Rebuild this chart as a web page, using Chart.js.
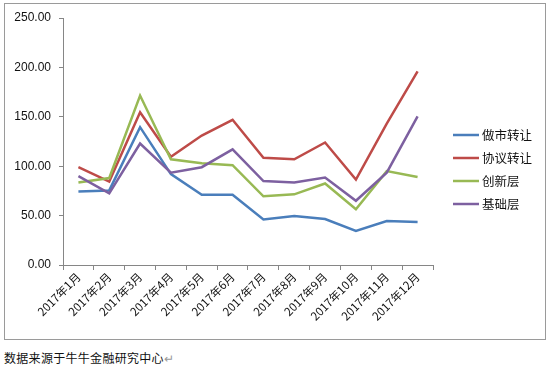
<!DOCTYPE html>
<html><head><meta charset="utf-8">
<script src="https://cdn.jsdelivr.net/npm/chart.js@4/dist/chart.umd.min.js"></script>
<style>
html,body{margin:0;padding:0;background:#fff;width:550px;height:368px;overflow:hidden;}
#box{position:absolute;left:4px;top:3px;width:540px;height:335px;border:1px solid #9a9a9a;}
#wrap{position:absolute;left:0;top:0;width:550px;height:345px;}
#cap{position:absolute;left:4px;top:349px;font:12px "Noto Sans CJK SC",sans-serif;color:#111;letter-spacing:0.3px;}
#cap span{color:#999;}
</style></head>
<body>
<div id="box"></div>
<div id="wrap"><canvas id="c"></canvas></div>
<div id="cap">数据来源于牛牛金融研究中心<span>↵</span></div>
<script>
const categories = ["2017年1月","2017年2月","2017年3月","2017年4月","2017年5月","2017年6月","2017年7月","2017年8月","2017年9月","2017年10月","2017年11月","2017年12月"];
const seriesNames = ["做市转让","协议转让","创新层","基础层"];
const marketMaking = [74.5, 75.5, 139.5, 92, 71, 71, 46, 49.5, 46.5, 34.5, 44.5, 43.5];
const agreement = [99, 84.5, 154.5, 109.5, 131, 147, 108.5, 107, 124, 86.5, 143, 196];
const innovation = [83.5, 88, 171.5, 107, 103, 101, 69.5, 71.5, 82.5, 56.5, 95, 89];
const basic = [90, 72.5, 123, 93.5, 99, 117, 85, 83.5, 88.5, 65, 93.5, 150.5];
const yTicks = [0, 50, 100, 150, 200, 250];
const colors = ["#4A7EBB","#BE4B48","#98B954","#7D60A0"];

const values = [marketMaking, agreement, innovation, basic];
const axisColor = "#868686";

const legendPlugin = {
  id: "sideLegend",
  afterDraw(chart) {
    const ctx = chart.ctx;
    ctx.save();
    chart.data.datasets.forEach((ds, i) => {
      const y = 135 + i * 23;
      ctx.strokeStyle = ds.borderColor;
      ctx.lineWidth = 2.5;
      ctx.beginPath();
      ctx.moveTo(453, y);
      ctx.lineTo(479, y);
      ctx.stroke();
      ctx.fillStyle = "#111";
      ctx.font = '12.5px "Noto Sans CJK SC", sans-serif';
      ctx.textBaseline = "middle";
      ctx.textAlign = "left";
      ctx.fillText(ds.label, 482, y);
    });
    ctx.restore();
  }
};

new Chart(document.getElementById("c"), {
  type: "line",
  data: {
    labels: categories,
    datasets: seriesNames.map((n, i) => ({
      label: n,
      data: values[i],
      borderColor: colors[i],
      backgroundColor: colors[i],
      borderWidth: 2.5,
      pointRadius: 0,
      tension: 0,
      fill: false,
      order: 4 - i
    }))
  },
  options: {
    responsive: true,
    maintainAspectRatio: false,
    animation: false,
    events: [],
    layout: { padding: { left: 0, right: 117, top: 18, bottom: 0 } },
    plugins: { legend: { display: false }, tooltip: { enabled: false } },
    scales: {
      x: {
        offset: true,
        grid: { offset: true, drawOnChartArea: false, drawTicks: true, tickLength: 5, color: axisColor },
        border: { display: true, color: axisColor, width: 1 },
        ticks: {
          autoSkip: false, maxRotation: 45, minRotation: 45, padding: 0,
          color: "#111", font: { family: '"Noto Sans CJK SC", "Liberation Sans", sans-serif', size: 11.5 }
        },
        afterFit(s) { s.height = 80; }
      },
      y: {
        min: 0, max: 250,
        afterBuildTicks(s) { s.ticks = yTicks.map(v => ({ value: v })); },
        grid: { drawOnChartArea: false, drawTicks: true, tickLength: 4, color: axisColor },
        border: { display: true, color: axisColor, width: 1 },
        ticks: {
          padding: 8, color: "#111",
          font: { family: '"Liberation Sans", sans-serif', size: 12 },
          callback: v => Number(v).toFixed(2)
        },
        afterFit(s) { s.width = 63; }
      }
    }
  },
  plugins: [legendPlugin]
});
</script>
</body></html>
